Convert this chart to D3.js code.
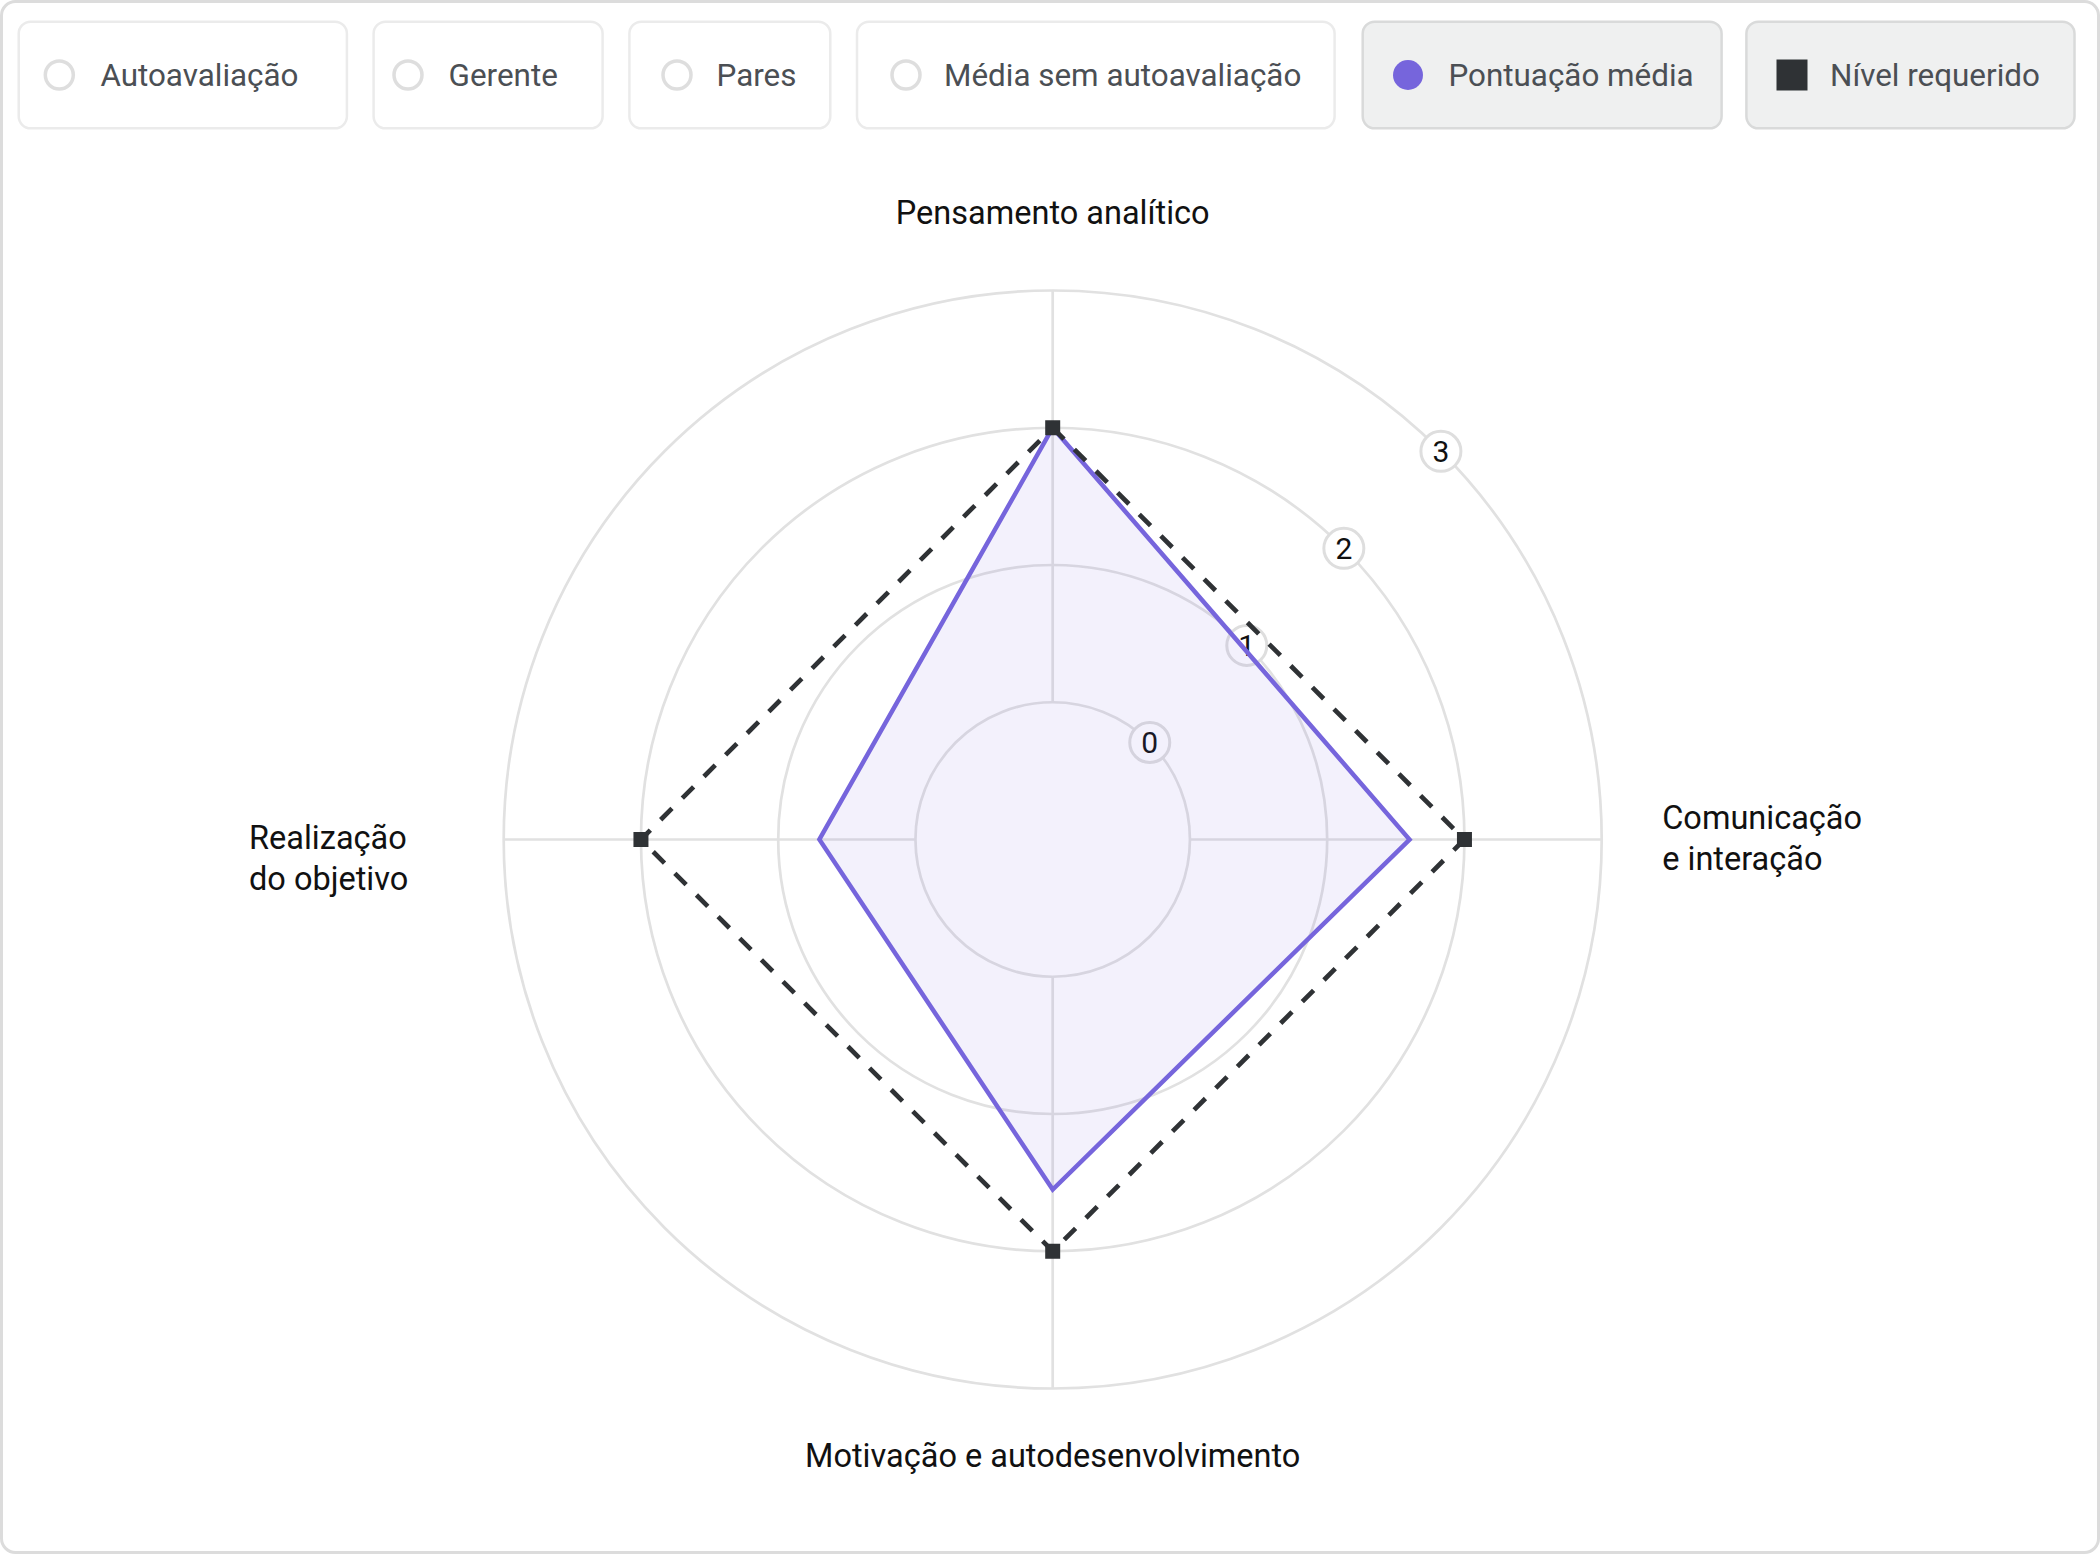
<!DOCTYPE html>
<html>
<head>
<meta charset="utf-8">
<script src="https://cdn.jsdelivr.net/npm/d3@7"></script>
<style>
  html, body { margin: 0; padding: 0; background: #ffffff; }
  svg { display: block; font-family: Roboto, "Noto Sans", sans-serif; }
</style>
</head>
<body>
<svg id="chart" width="2100" height="1554"></svg>
<script>
// ---------- data ----------
const axisLabels = ["Pensamento analítico", "Comunicação\ne interação", "Motivação e autodesenvolvimento", "Realização\ndo objetivo"];
const averageScore = [2, 1.6, 1.55, 0.7];      // Pontuação média
const requiredLevel = [2, 2, 2, 2];             // Nível requerido
const radialTicks = [0, 1, 2, 3];
const legendLabels = ["Autoavaliação", "Gerente", "Pares", "Média sem autoavaliação", "Pontuação média", "Nível requerido"];
const legendActive = [false, false, false, false, true, true];

// ---------- layout (positions only) ----------
const W = 2100, H = 1554;
const cx = 1052.7, cy = 839.5;
const purple = "#7665dc", dark = "#2f3235", grid = "#e1e1e1";
const legendBoxLeft  = [18.7, 373.6, 629.4, 857, 1362.7, 1746.4];
const legendBoxRight = [346.9, 602.6, 830.3, 1334.6, 1721.6, 2074.5];
const legendIconX    = [59.3, 408, 677, 906, 1408, 1792];
const legendTextX    = [100.4, 448.6, 716.5, 944, 1448.4, 1830];

const svg = d3.select("#chart");

// card
svg.append("rect").attr("x", 1.5).attr("y", 1.5).attr("width", W - 3).attr("height", H - 3)
  .attr("rx", 14).attr("fill", "#fff").attr("stroke", "#dcdcdc").attr("stroke-width", 3);

// ---------- legend ----------
const boxY = 21.7, boxH = 106.6, iconY = 75;
const items = svg.append("g").selectAll("g.item").data(legendLabels).join("g").attr("class", "item");
items.append("rect")
  .attr("x", (d, i) => legendBoxLeft[i]).attr("width", (d, i) => legendBoxRight[i] - legendBoxLeft[i])
  .attr("y", boxY).attr("height", boxH).attr("rx", 12)
  .attr("fill", (d, i) => legendActive[i] ? "#eff0f0" : "#ffffff")
  .attr("stroke", (d, i) => legendActive[i] ? "#d9dada" : "#ebebeb")
  .attr("stroke-width", 2.5);
items.append("text")
  .attr("x", (d, i) => legendTextX[i]).attr("y", 86)
  .attr("font-size", 31.4).attr("fill", "#4b4f54")
  .text(d => d);
items.each(function (d, i) {
  const g = d3.select(this);
  const x = legendIconX[i];
  if (i === 5) {
    g.append("rect").attr("x", x - 15.5).attr("y", iconY - 15.5).attr("width", 31).attr("height", 31).attr("fill", dark);
  } else if (legendActive[i]) {
    g.append("circle").attr("cx", x).attr("cy", iconY).attr("r", 15).attr("fill", purple);
  } else {
    g.append("circle").attr("cx", x).attr("cy", iconY).attr("r", 14).attr("fill", "none")
      .attr("stroke", "#dedede").attr("stroke-width", 3.5);
  }
});

// ---------- radar ----------
const r = d3.scaleLinear().domain([-1, 3]).range([0, 549]);
const angle = d3.scaleLinear().domain([0, axisLabels.length]).range([0, 2 * Math.PI]);
const plot = svg.append("g").attr("transform", `translate(${cx},${cy})`);

// rings
plot.append("g").selectAll("circle").data(radialTicks).join("circle")
  .attr("r", d => r(d)).attr("fill", "none").attr("stroke", grid).attr("stroke-width", 2.7);

// spokes (from inner ring to outer ring)
const rMin = r(radialTicks[0]), rMax = r(radialTicks[radialTicks.length - 1]);
plot.append("g").selectAll("line").data(axisLabels).join("line")
  .attr("x1", (d, i) => rMin * Math.sin(angle(i)))
  .attr("y1", (d, i) => -rMin * Math.cos(angle(i)))
  .attr("x2", (d, i) => rMax * Math.sin(angle(i)))
  .attr("y2", (d, i) => -rMax * Math.cos(angle(i)))
  .attr("stroke", grid).attr("stroke-width", 2.7);

// tick labels at 45°
const tickAng = Math.PI / 4;
const tl = plot.append("g").selectAll("g").data(radialTicks).join("g")
  .attr("transform", d => `translate(${r(d) * Math.sin(tickAng)},${-r(d) * Math.cos(tickAng)})`);
tl.append("circle").attr("r", 20).attr("fill", "#fff").attr("stroke", "#dedede").attr("stroke-width", 3);
tl.append("text").attr("text-anchor", "middle").attr("dy", "0.36em")
  .attr("font-size", 30).attr("fill", "#111").text(d => d);

// series: average score
const radial = d3.lineRadial().curve(d3.curveLinearClosed)
  .angle((d, i) => angle(i)).radius(d => r(d));
plot.append("path").datum(averageScore).attr("d", radial)
  .attr("fill", purple).attr("fill-opacity", 0.09)
  .attr("stroke", purple).attr("stroke-width", 4.5).attr("stroke-linejoin", "miter");

// series: required level
plot.append("path").datum(requiredLevel).attr("d", radial)
  .attr("fill", "none").attr("stroke", dark).attr("stroke-width", 4.7)
  .attr("stroke-dasharray", "16,14.6");
plot.append("g").selectAll("rect").data(requiredLevel).join("rect")
  .attr("x", (d, i) => r(d) * Math.sin(angle(i)) - 7.5)
  .attr("y", (d, i) => -r(d) * Math.cos(angle(i)) - 7.5)
  .attr("width", 15).attr("height", 15).attr("fill", dark);

// axis labels
const labelPos = [
  { x: 0, y: -616, anchor: "middle" },
  { x: 609.5, y: -11, anchor: "start" },
  { x: 0, y: 627, anchor: "middle" },
  { x: -803.7, y: 9.5, anchor: "start" }
];
const al = plot.append("g").selectAll("text").data(axisLabels).join("text")
  .attr("x", (d, i) => labelPos[i].x).attr("y", (d, i) => labelPos[i].y)
  .attr("text-anchor", (d, i) => labelPos[i].anchor)
  .attr("font-size", 32.5).attr("fill", "#111");
al.each(function (d, i) {
  const t = d3.select(this);
  d.split("\n").forEach((line, k) => {
    t.append("tspan").attr("x", labelPos[i].x).attr("dy", k === 0 ? 0 : 41).text(line);
  });
});
</script>
</body>
</html>
